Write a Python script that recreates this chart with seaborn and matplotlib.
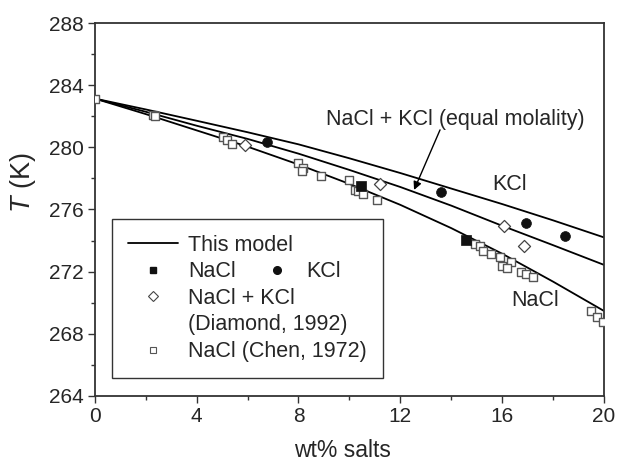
import numpy as np
import pandas as pd
import matplotlib
matplotlib.use("Agg")
import matplotlib.pyplot as plt
from matplotlib.lines import Line2D
from matplotlib.ticker import MultipleLocator
import seaborn as sns

# ---- model lines ----
model_x = [0, 2, 4, 6, 8, 10, 12, 14, 16, 18, 20]
model_kcl = [283.15, 282.45, 281.72, 280.98, 280.2, 279.3, 278.35, 277.35, 276.35, 275.3, 274.2]
model_mix = [283.15, 282.3, 281.4, 280.55, 279.6, 278.55, 277.45, 276.25, 274.95, 273.7, 272.43]
model_nacl = [283.15, 282.15, 281.1, 280.05, 278.9, 277.65, 276.3, 274.8, 273.15, 271.35, 269.46]

# ---- experimental data ----
nacl_x = [10.45, 14.58]
nacl_T = [277.54, 274.04]
kcl_x = [6.75, 13.58, 16.92, 18.47]
kcl_T = [280.33, 277.11, 275.15, 274.31]
diam_x = [5.9, 11.2, 16.07, 16.87]
diam_T = [280.13, 277.63, 274.94, 273.65]
chen_x = [0.0, 2.3, 2.37, 5.03, 5.2, 5.38, 7.99, 8.19, 8.13, 8.88, 9.97, 10.23, 10.35,
          10.52, 11.08, 14.93, 15.13, 15.26, 15.56, 15.93, 16.36, 16.0, 16.2, 16.74,
          16.93, 17.22, 19.47, 19.71, 19.97]
chen_T = [283.1, 282.1, 282.0, 280.65, 280.48, 280.24, 278.98, 278.66, 278.5, 278.16,
          277.9, 277.28, 277.17, 277.0, 276.61, 273.78, 273.65, 273.35, 273.13, 272.92,
          272.62, 272.38, 272.23, 271.99, 271.85, 271.67, 269.46, 269.1, 268.77]

sns.set_style("ticks")
plt.rcParams['font.family'] = ['Liberation Sans', 'DejaVu Sans']
plt.rcParams['mathtext.fontset'] = 'custom'
plt.rcParams['mathtext.it'] = 'Liberation Sans:italic'
plt.rcParams['mathtext.rm'] = 'Liberation Sans'

fig = plt.figure(figsize=(6.17, 4.62), dpi=100)
ax = fig.add_axes([0.1535, 0.1435, 0.8255, 0.8061])

lines_df = pd.DataFrame({
    "x": model_x * 3,
    "T": model_kcl + model_mix + model_nacl,
    "series": ["KCl"] * len(model_x) + ["mix"] * len(model_x) + ["NaCl"] * len(model_x),
})
sns.lineplot(data=lines_df, x="x", y="T", units="series", estimator=None,
             color="black", lw=1.3, ax=ax, legend=False, sort=False)

sns.scatterplot(x=chen_x, y=chen_T, marker="s", s=40, facecolor="white",
                edgecolor="#555555", linewidth=1.0, ax=ax, zorder=3)
sns.scatterplot(x=diam_x, y=diam_T, marker="D", s=38, facecolor="white",
                edgecolor="#444444", linewidth=0.9, ax=ax, zorder=3)
sns.scatterplot(x=nacl_x, y=nacl_T, marker="s", s=42, color="#111111",
                edgecolor="#111111", linewidth=0.5, ax=ax, zorder=3)
sns.scatterplot(x=kcl_x, y=kcl_T, marker="o", s=50, color="#111111",
                edgecolor="#111111", linewidth=0.5, ax=ax, zorder=3)

ax.set_xlim(0, 20)
ax.set_ylim(264, 288)
ax.xaxis.set_major_locator(MultipleLocator(4))
ax.xaxis.set_minor_locator(MultipleLocator(2))
ax.yaxis.set_major_locator(MultipleLocator(4))
ax.yaxis.set_minor_locator(MultipleLocator(2))
ax.tick_params(which="major", direction="out", length=5, width=1, labelsize=15,
               top=False, right=False, color="#333333", pad=3)
ax.tick_params(which="minor", direction="out", length=3, width=1,
               top=False, right=False, color="#333333")
for sp in ax.spines.values():
    sp.set_visible(True)
    sp.set_linewidth(1.3)
    sp.set_color("#333333")

ax.set_xlabel("wt% salts", fontsize=16.5)
ax.xaxis.set_label_coords(0.487, -0.117)
ax.set_ylabel("$T$ (K)", fontsize=19.5)
ax.yaxis.set_label_coords(-0.111, 0.572)

ax.text(14.16, 281.77, "NaCl + KCl (equal molality)", fontsize=15.5,
        ha="center", va="center")
ax.annotate("", xy=(12.54, 277.26), xytext=(13.56, 281.13),
            arrowprops=dict(arrowstyle="-|>", color="black", lw=1.0,
                            mutation_scale=12, shrinkA=0, shrinkB=0))
ax.text(16.3, 277.58, "KCl", fontsize=15.5, ha="center", va="center")
ax.text(17.3, 270.13, "NaCl", fontsize=15.5, ha="center", va="center")

# legend
handles = [
    Line2D([], [], color="black", lw=1.3),
    Line2D([], [], color="#111111", marker="s", ls="none", markersize=5),
    Line2D([], [], color="#444444", marker="D", ls="none", markersize=5,
           markerfacecolor="white", markeredgewidth=0.8),
    Line2D([], [], ls="none", marker=None),
    Line2D([], [], color="#555555", marker="s", ls="none", markersize=5,
           markerfacecolor="white", markeredgewidth=0.8),
]
labels = ["This model", "NaCl", "NaCl + KCl", "(Diamond, 1992)", "NaCl (Chen, 1972)"]
leg = ax.legend(handles, labels, loc="lower left", bbox_to_anchor=(0.034, 0.047),
                borderaxespad=0, fontsize=15.5, handlelength=2.33, handletextpad=0.45,
                borderpad=0.75, labelspacing=0.26, frameon=True, fancybox=False,
                edgecolor="#333333", framealpha=1)
leg.get_frame().set_linewidth(1.0)
ax.add_artist(leg)

# align the second-row KCl entry with the NaCl row of the main legend
fig.canvas.draw()
bb = leg.get_texts()[1].get_window_extent()
yc = ax.transAxes.inverted().transform(((bb.x0 + bb.x1) / 2, (bb.y0 + bb.y1) / 2))[1]

leg2 = ax.legend([Line2D([], [], color="#111111", marker="o", ls="none", markersize=5.5)],
                 ["KCl"], loc="center left", bbox_to_anchor=(0.3364, yc),
                 borderaxespad=0, borderpad=0, fontsize=15.5, handlelength=1.0,
                 handletextpad=0.89, frameon=False)

fig.savefig("out.png", dpi=100)
